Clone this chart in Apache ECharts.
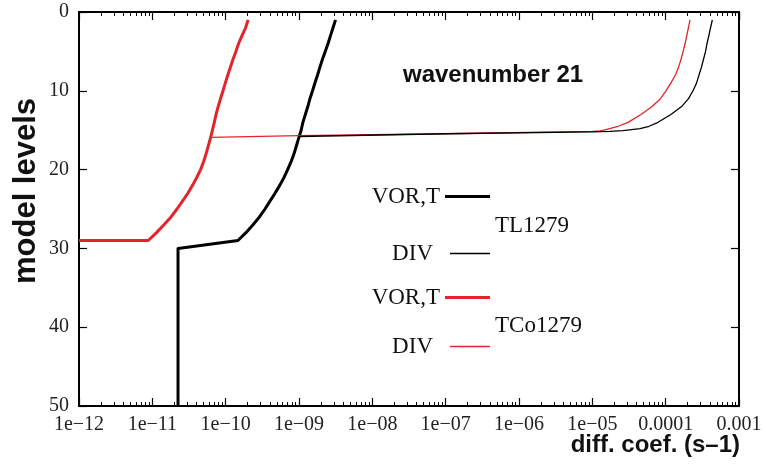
<!DOCTYPE html>
<html><head><meta charset="utf-8">
<script src="https://cdn.jsdelivr.net/npm/echarts@6/dist/echarts.min.js"></script>
<style>html,body{margin:0;padding:0;background:#fff}#c{width:766px;height:471px}</style>
</head><body><div id="c"></div>
<script>
// tick labels (gnuplot style)
const xTickLabels = ['1e\u221212','1e\u221211','1e\u221210','1e\u221209','1e\u221208','1e\u221207','1e\u221206','1e\u221205','0.0001','0.001'];
const yTickLabels = ['0','10','20','30','40','50'];
const minorMantissas = [2,3,4,5,6,7,8,9];

// TL1279, VOR,T (thick black)
const tlVorLevels = [1,2,3,4,5,6,7,8,9,10,11,12,13,14,15,16,17,18,19,20,21,22,23,24,25,26,27,28,29,30,50];
const tlVorCoef   = [3.15e-9,2.91e-9,2.69e-9,2.49e-9,2.28e-9,2.09e-9,1.93e-9,1.79e-9,1.65e-9,1.53e-9,1.41e-9,1.32e-9,1.22e-9,1.13e-9,1.07e-9,9.9e-10,9.2e-10,8.55e-10,7.8e-10,7.0e-10,6.25e-10,5.46e-10,4.71e-10,4.02e-10,3.44e-10,2.89e-10,2.36e-10,1.89e-10,1.47e-10,2.24e-11,2.24e-11];

// TL1279, DIV (thin black)
const tlDivLevels = [15.8,15.45,15.2,15.15,15.05,14.8,14.5,14,13,12,11,10,9,8,7,6,5,4,3,2,1];
const tlDivCoef   = [9.9e-10,1e-7,1e-5,1.74e-5,2.62e-5,4.47e-5,5.93e-5,7.87e-5,1.18e-4,1.65e-4,2.05e-4,2.36e-4,2.64e-4,2.85e-4,3.08e-4,3.28e-4,3.5e-4,3.66e-4,3.88e-4,4.09e-4,4.33e-4];

// TCo1279, VOR,T (thick red)
const tcoVorLevels = [1,2,3,4,5,6,7,8,9,10,11,12,13,14,15,16,17,18,19,20,21,22,23,24,25,26,27,28,29,29];
const tcoVorCoef   = [2.02e-10,1.87e-10,1.67e-10,1.5e-10,1.38e-10,1.26e-10,1.16e-10,1.07e-10,9.9e-11,9.2e-11,8.5e-11,7.9e-11,7.4e-11,7.0e-11,6.6e-11,6.2e-11,5.8e-11,5.4e-11,5.0e-11,4.55e-11,4.03e-11,3.53e-11,3.05e-11,2.58e-11,2.17e-11,1.8e-11,1.44e-11,1.14e-11,8.8e-12,1e-12];

// TCo1279, DIV (thin red)
const tcoDivLevels = [15.9,15.7,15.45,15.15,15.1,15.0,14.5,14,13,12,11,10,9,8,7,6,5,4,3,2,1];
const tcoDivCoef   = [6.2e-11,1e-9,1e-7,1e-5,1.27e-5,1.44e-5,2.24e-5,3.07e-5,4.61e-5,6.52e-5,8.5e-5,1.01e-4,1.18e-4,1.36e-4,1.5e-4,1.62e-4,1.73e-4,1.84e-4,1.94e-4,2.04e-4,2.15e-4];

const zip = (c, l) => c.map((v, i) => [v, l[i]]);
const RED = '#e3242b', BLACK = '#000000';
const serif = 'Liberation Serif';

// minor tick positions (2..9 within each decade)
const minorTickValues = [];
for (let e = -12; e < -3; e++) minorMantissas.forEach(m => minorTickValues.push(Number((m + 'e' + e))));

const chart = echarts.init(document.getElementById('c'), null, {renderer: 'canvas'});

const tickStyle = {inside: true, length: 8, lineStyle: {color: '#000', width: 1.2}};
const lineStyleAxis = {show: true, onZero: false, lineStyle: {color: '#000', width: 2}};
const minorAxis = pos => ({
  type: 'log', logBase: 10, min: 1e-12, max: 1e-3, position: pos,
  axisLine: {show: false, onZero: false},
  axisTick: {show: true, inside: true, length: 4, customValues: minorTickValues, lineStyle: {color: '#000', width: 1}},
  axisLabel: {show: false}, splitLine: {show: false}
});

const legendText = {fontFamily: serif, fontSize: 23, color: '#111'};
function leg(name, label, top, w, h, pad) {
  return {
    data: [name], right: 276, top: top, align: 'right', icon: 'rect',
    itemWidth: w, itemHeight: h, padding: 0, selectedMode: false,
    formatter: () => label,
    textStyle: Object.assign({}, legendText, {padding: [0, pad, 0, 0]})
  };
}

const lineSeries = (name, data, color, width) => ({
  name, type: 'line', data, symbol: 'none', smooth: false, color,
  lineStyle: {color, width, join: 'round'}, clip: true
});

chart.setOption({
  animation: false,
  backgroundColor: '#fff',
  grid: {left: 79, right: 27, top: 12, bottom: 65},
  xAxis: [{
    type: 'log', logBase: 10, min: 1e-12, max: 1e-3, position: 'bottom',
    axisLine: lineStyleAxis, axisTick: tickStyle,
    splitLine: {show: false},
    axisLabel: {fontFamily: serif, fontSize: 20, color: '#222', margin: 9,
      formatter: v => xTickLabels[Math.round(Math.log10(v)) + 12]}
  }, {
    type: 'log', logBase: 10, min: 1e-12, max: 1e-3, position: 'top',
    axisLine: lineStyleAxis, axisTick: tickStyle,
    splitLine: {show: false}, axisLabel: {show: false}
  }, minorAxis('bottom'), minorAxis('top')],
  yAxis: [{
    type: 'value', inverse: true, min: 0, max: 50, interval: 10, position: 'left',
    axisLine: lineStyleAxis, axisTick: tickStyle, splitLine: {show: false},
    axisLabel: {fontFamily: serif, fontSize: 20, color: '#222', margin: 10,
      formatter: v => yTickLabels[Math.round(v / 10)]}
  }, {
    type: 'value', inverse: true, min: 0, max: 50, interval: 10, position: 'right',
    axisLine: lineStyleAxis, axisTick: tickStyle, splitLine: {show: false},
    axisLabel: {show: false}
  }],
  legend: [
    leg('VOR,T TL1279', 'VOR,T', 185, 45, 3, 0),
    leg('DIV TL1279', 'DIV', 242, 40, 1.5, 12),
    leg('VOR,T TCo1279', 'VOR,T', 286, 45, 3, 0),
    leg('DIV TCo1279', 'DIV', 335, 40, 1.5, 12)
  ],
  graphic: [
    {type: 'text', x: 403, y: 75, style: {text: 'wavenumber 21', font: 'bold 24px "Liberation Sans"', fill: '#111', align: 'left', verticalAlign: 'middle'}},
    {type: 'text', x: 495, y: 226, style: {text: 'TL1279', font: '23px "Liberation Serif"', fill: '#111', align: 'left', verticalAlign: 'middle'}},
    {type: 'text', x: 495, y: 326, style: {text: 'TCo1279', font: '23px "Liberation Serif"', fill: '#111', align: 'left', verticalAlign: 'middle'}},
    {type: 'text', x: 26, y: 191, rotation: Math.PI / 2, style: {text: 'model levels', font: 'bold 31px "Liberation Sans"', fill: '#111', align: 'center', verticalAlign: 'middle'}},
    {type: 'text', x: 740, y: 445, style: {text: 'diff. coef. (s\u20131)', font: 'bold 24px "Liberation Sans"', fill: '#111', align: 'right', verticalAlign: 'middle'}}
  ],
  series: [
    lineSeries('VOR,T TCo1279', zip(tcoVorCoef, tcoVorLevels), RED, 3),
    lineSeries('VOR,T TL1279', zip(tlVorCoef, tlVorLevels), BLACK, 3),
    lineSeries('DIV TCo1279', zip(tcoDivCoef, tcoDivLevels), RED, 1.3),
    lineSeries('DIV TL1279', zip(tlDivCoef, tlDivLevels), BLACK, 1.3)
  ]
});
</script></body></html>
